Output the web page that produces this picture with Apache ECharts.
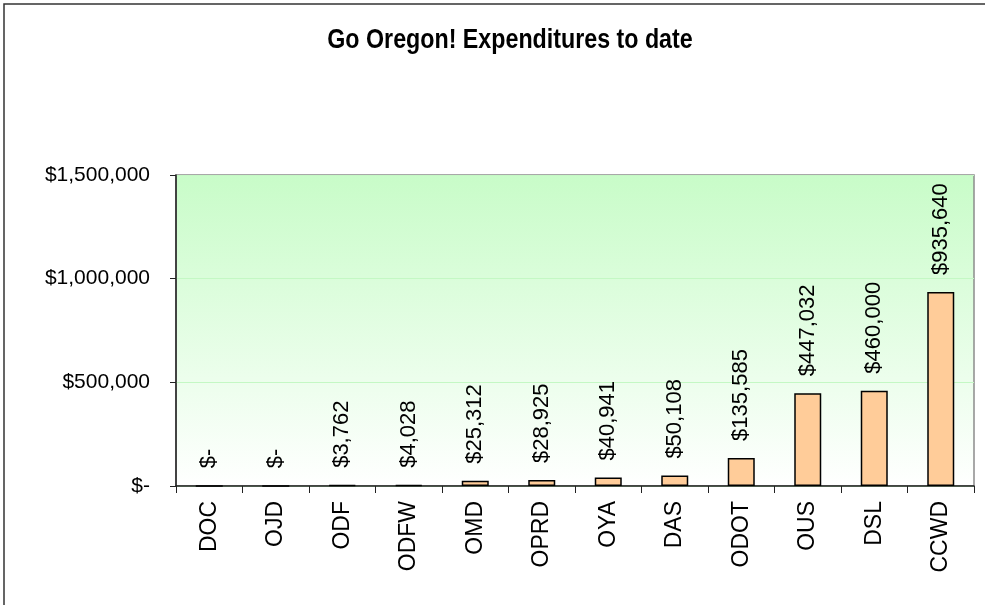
<!DOCTYPE html>
<html>
<head>
<meta charset="utf-8">
<script src="https://cdn.jsdelivr.net/npm/echarts@6/dist/echarts.min.js"></script>
<style>
  html, body { margin: 0; padding: 0; background: #fff; }
  #chart { width: 985px; height: 605px; }
</style>
</head>
<body>
<div id="chart"></div>
<script>
// agencies and spend so far
const agencies = ['DOC', 'OJD', 'ODF', 'ODFW', 'OMD', 'OPRD', 'OYA', 'DAS', 'ODOT', 'OUS', 'DSL', 'CCWD']
const spent = [0, 0, 3762, 4028, 25312, 28925, 40941, 50108, 135585, 447032, 460000, 935640]
const yTicks = [0, 500000, 1000000, 1500000]

// Excel-style accounting format: 0 shows as "$-"
function money(v) {
  if (!v) return '$-'
  return '$' + Math.round(v).toLocaleString('en-US')
}

const chart = echarts.init(document.getElementById('chart'))

chart.setOption({
  animation: false,
  textStyle: { fontFamily: 'Liberation Sans, Arial, sans-serif' },
  graphic: [
    {
      // title drawn as text so it can be squeezed like the narrow original
      type: 'text',
      x: 510,
      y: 40,
      scaleX: 0.83,
      silent: true,
      style: {
        text: 'Go Oregon! Expenditures to date',
        font: 'bold 28px "Liberation Sans", Arial, sans-serif',
        fill: '#000',
        textAlign: 'center',
        textVerticalAlign: 'middle'
      }
    },
    {
      type: 'rect',
      shape: { x: 4, y: 4, width: 1200, height: 800 },
      style: { fill: null, stroke: '#333', lineWidth: 1.5 },
      silent: true,
      z: 100
    }
  ],
  grid: {
    left: 176,
    right: 11,
    top: 175,
    bottom: 119,
    show: true,
    borderColor: '#8c8c8c',
    borderWidth: 1.5,
    backgroundColor: {
      type: 'linear', x: 0, y: 0, x2: 0, y2: 1,
      colorStops: [
        { offset: 0, color: '#c8fcc8' },
        { offset: 1, color: '#ffffff' }
      ]
    }
  },
  xAxis: {
    type: 'category',
    data: agencies,
    axisLine: { lineStyle: { color: '#222', width: 1.5 } },
    axisTick: { show: true, length: 7, lineStyle: { color: '#222', width: 1 } },
    axisLabel: {
      rotate: 90,
      margin: 15,
      fontSize: 23,
      color: '#000'
    }
  },
  yAxis: {
    type: 'value',
    min: 0,
    max: 1500000,
    interval: 500000,
    axisLine: { show: true, lineStyle: { color: '#222', width: 1.5 } },
    axisTick: { show: true, length: 6, lineStyle: { color: '#222', width: 1 } },
    splitLine: { lineStyle: { color: '#c4f8c4', width: 1 } },
    axisLabel: {
      margin: 26,
      fontSize: 21,
      color: '#000',
      formatter: v => yTicks.includes(v) ? money(v) : ''
    }
  },
  series: [{
    type: 'bar',
    data: spent,
    barWidth: 27,
    itemStyle: { color: '#ffcc99', borderColor: '#000', borderWidth: 1.5 },
    label: {
      show: true,
      position: 'top',
      distance: 17,
      rotate: 90,
      align: 'left',
      verticalAlign: 'middle',
      fontSize: 22,
      color: '#000',
      formatter: p => money(p.value)
    }
  }]
})
</script>
</body>
</html>
